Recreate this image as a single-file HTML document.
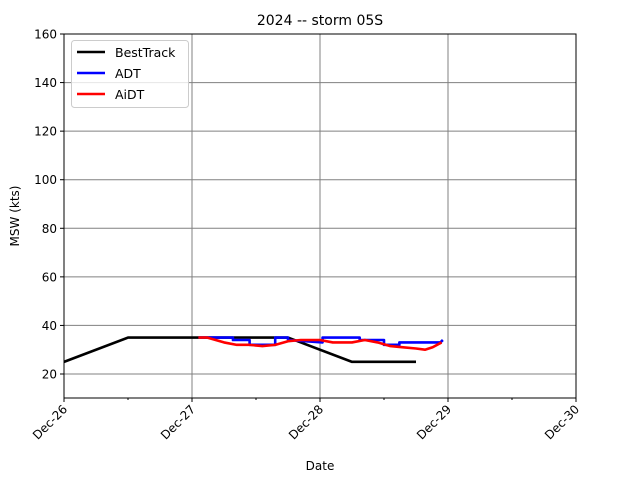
<!DOCTYPE html>
<html><head><meta charset="utf-8"><style>
body{margin:0;background:#fff;font-family:"DejaVu Sans","Liberation Sans",sans-serif;}
svg text{font-family:"DejaVu Sans","Liberation Sans",sans-serif;}
</style></head><body>
<svg id="c" width="640" height="480" xmlns="http://www.w3.org/2000/svg">
<rect width="640" height="480" fill="#fff"/>
<text x="320" y="25" text-anchor="middle" font-size="14">2024 -- storm 05S</text>
<g id="grid"></g><g id="series"></g><g id="axes"></g>
<text x="320" y="470" text-anchor="middle" font-size="12">Date</text>
<text transform="translate(19,216) rotate(-90)" text-anchor="middle" font-size="12">MSW (kts)</text>
<g>
<rect x="71.5" y="40.5" width="117" height="67" rx="3" fill="#fff" fill-opacity="0.8" stroke="#ccc"/>
<line x1="77" y1="52" x2="105" y2="52" stroke="#000" stroke-width="2.6"/><text x="115" y="57" font-size="12.5">BestTrack</text>
<line x1="77" y1="73" x2="105" y2="73" stroke="#0000ff" stroke-width="2.6"/><text x="115" y="78" font-size="12.5">ADT</text>
<line x1="77" y1="94" x2="105" y2="94" stroke="#ff0000" stroke-width="2.6"/><text x="115" y="99" font-size="12.5">AiDT</text>
</g>
</svg>
<script>
const xTickLabels=["Dec-26","Dec-27","Dec-28","Dec-29","Dec-30"];
const yTicks=[20,40,60,80,100,120,140,160];
const btDays=[0,0.5,1.75,2.25,2.75];
const btVals=[25,35,35,25,25];
const adtDays=[1.05,1.32,1.32,1.45,1.45,1.65,1.65,1.75,1.75,2.02,2.02,2.31,2.31,2.5,2.5,2.62,2.62,2.94,2.96];
const adtVals=[35,35,34,34,32,32,35,35,34,33,35,35,34,34,32,32,33,33,34];
const aiDays=[1.05,1.12,1.25,1.35,1.45,1.55,1.65,1.75,1.85,2.0,2.1,2.25,2.35,2.45,2.55,2.65,2.75,2.82,2.88,2.95];
const aiVals=[35,35,33,32,32,31.5,32,33.5,34,34,33,33,34,33,31.5,31,30.5,30,31,33];
const X=d=>64+d*128, Y=v=>34+(160-v)*340/140;
const NS="http://www.w3.org/2000/svg";
function mk(p,t,a){const e=document.createElementNS(NS,t);for(const k in a)e.setAttribute(k,a[k]);document.getElementById(p).appendChild(e);return e;}
xTickLabels.forEach((l,i)=>{
 const g=mk("grid","line",{x1:X(i),x2:X(i),y1:34,y2:398,stroke:"#808080","stroke-width":1});
 
 
 mk("axes","line",{x1:X(i),x2:X(i),y1:398,y2:402,stroke:"#000"});
 if(i<4)mk("axes","line",{x1:X(i+0.5),x2:X(i+0.5),y1:398,y2:400,stroke:"#000"});
 const t=mk("axes","text",{transform:`translate(${X(i)+4},410) rotate(-45)`,"text-anchor":"end","font-size":12});
 t.textContent=l;
 
 
});
yTicks.forEach(v=>{
 const g=mk("grid","line",{x1:64,x2:576,y1:Y(v),y2:Y(v),stroke:"#808080","stroke-width":1});
 
 
 mk("axes","line",{x1:60,x2:64,y1:Y(v),y2:Y(v),stroke:"#000"});
 const t=mk("axes","text",{x:57,y:Y(v)+4.5,"text-anchor":"end","font-size":12});
 t.textContent=v;
 
 
});
mk("axes","rect",{x:64,y:34,width:512,height:364,fill:"none",stroke:"#000","stroke-width":1});
function line(d,v,c,n){
 const p=mk("series","polyline",{points:d.map((x,i)=>X(x)+","+Y(v[i])).join(" "),fill:"none",stroke:c,"stroke-width":2.6,"stroke-linejoin":"round"});
 
 
}
line(btDays,btVals,"#000","besttrack-line");
line(adtDays,adtVals,"#0000ff","adt-line");
line(aiDays,aiVals,"#ff0000","aidt-line");
</script>
</body></html>
